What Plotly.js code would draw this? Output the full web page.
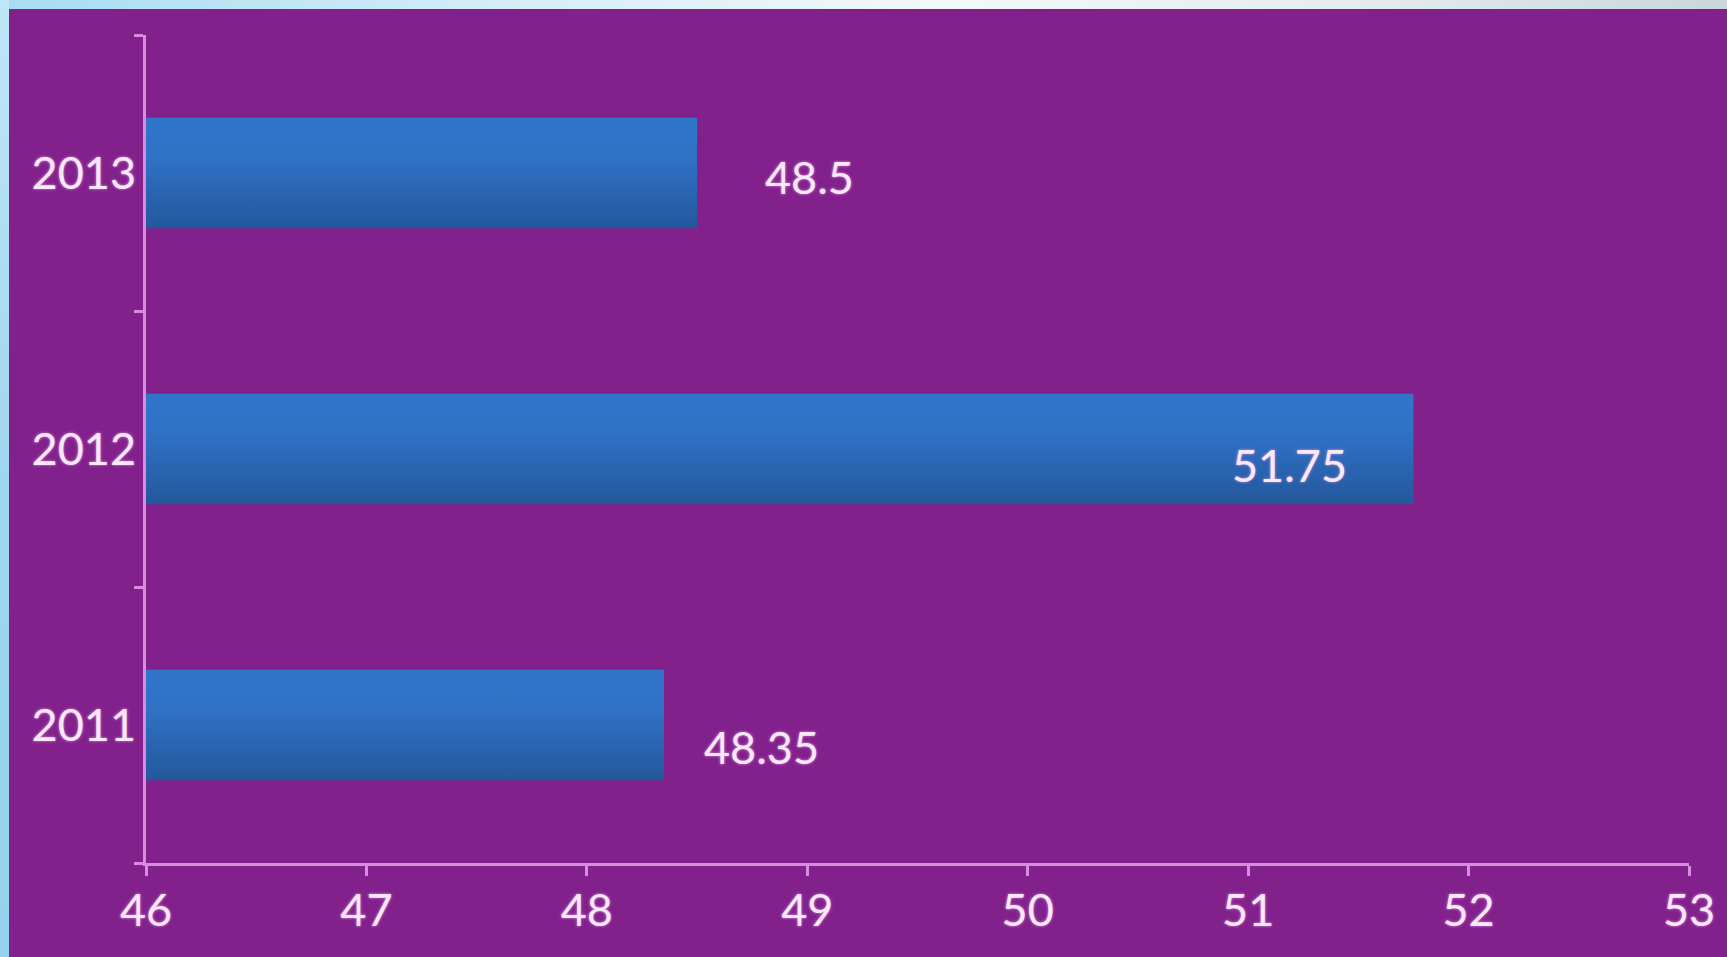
<!DOCTYPE html>
<html>
<head>
<meta charset="utf-8">
<script src="https://cdn.plot.ly/plotly-3.0.1.min.js"></script>
<style>
  html, body { margin: 0; padding: 0; width: 1727px; height: 957px; overflow: hidden; }
  body { background: linear-gradient(to right, #a6dcf3 0%, #d6eef8 30%, #f4f8f9 55%, #e3ebee 80%, #c9d6dc 100%); position: relative; }
  #leftstrip { position: absolute; left: 0; top: 0; width: 9px; height: 957px; background: linear-gradient(to bottom, #bfe6f7, #9fd6ef 50%, #93d2ee); }
  #chart { position: absolute; left: 9px; top: 9px; width: 1718px; height: 948px; }
  #chart svg text { text-shadow: 0 0 3px rgba(230, 150, 235, 0.9); }
</style>
</head>
<body>
<div id="leftstrip"></div>
<div id="chart"></div>
<script>
// Data
const years = ['2011', '2012', '2013'];
const values = [48.35, 51.75, 48.5];
const valueLabels = ['48.35', '51.75', '48.5'];
const xTickValues = [46, 47, 48, 49, 50, 51, 52, 53];

// Label placement (pixels, layout only)
const labelDx = [97, -124, 112];
const labelDy = [-22, -16, -4];

const textColor = '#f8e8f8';
const axisColor = '#d88ce0';
const font = { family: 'Lato, "Open Sans", sans-serif', size: 45, color: textColor };

const trace = {
  type: 'bar',
  orientation: 'h',
  x: values,
  y: years,
  marker: { color: '#2b67b4', line: { width: 0 } },
  hoverinfo: 'none'
};

// annotations positioned on the category axis by category index
const annotations = years.map((y, i) => ({
  x: values[i], y: i, xref: 'x', yref: 'y',
  text: valueLabels[i], showarrow: false,
  xanchor: 'center', yanchor: 'middle',
  xshift: labelDx[i], yshift: labelDy[i],
  font: font
}));

const layout = {
  width: 1718, height: 948,
  paper_bgcolor: '#83218c', plot_bgcolor: 'rgba(0,0,0,0)',
  margin: { l: 137, r: 38, t: 26, b: 93.5 },
  bargap: 0.6,
  showlegend: false,
  xaxis: {
    range: [46, 53], autorange: false,
    tickvals: xTickValues, ticktext: xTickValues.map(String),
    showgrid: false, zeroline: false,
    showline: true, linecolor: axisColor, linewidth: 3,
    ticks: 'outside', ticklen: 10, tickwidth: 3, tickcolor: axisColor,
    tickfont: font, ticklabelstandoff: -4, fixedrange: true
  },
  yaxis: {
    type: 'category', categoryorder: 'array', categoryarray: years,
    range: [-0.5, 2.5], autorange: false,
    showgrid: false, zeroline: false,
    showline: true, linecolor: axisColor, linewidth: 3,
    ticks: 'outside', ticklen: 9, tickwidth: 3, tickcolor: axisColor,
    tickson: 'boundaries',
    tickfont: font, ticklabelstandoff: -2, fixedrange: true
  },
  annotations: annotations
};

Plotly.newPlot('chart', [trace], layout, { staticPlot: true, displayModeBar: false }).then(gd => {
  const svgNS = 'http://www.w3.org/2000/svg';
  const svg = gd.querySelector('.main-svg');
  let defs = svg.querySelector('defs');
  if (!defs) { defs = document.createElementNS(svgNS, 'defs'); svg.insertBefore(defs, svg.firstChild); }
  const grad = document.createElementNS(svgNS, 'linearGradient');
  grad.setAttribute('id', 'barGrad');
  grad.setAttribute('x1', '0'); grad.setAttribute('y1', '0');
  grad.setAttribute('x2', '0'); grad.setAttribute('y2', '1');
  [['0', '#2f76cb'], ['0.35', '#2f72c6'], ['0.7', '#2a63af'], ['1', '#23589b']].forEach(([o, c]) => {
    const s = document.createElementNS(svgNS, 'stop');
    s.setAttribute('offset', o); s.setAttribute('stop-color', c);
    grad.appendChild(s);
  });
  defs.appendChild(grad);
  gd.querySelectorAll('.bars .point path').forEach(p => { p.style.fill = 'url(#barGrad)'; });
});
</script>
</body>
</html>
